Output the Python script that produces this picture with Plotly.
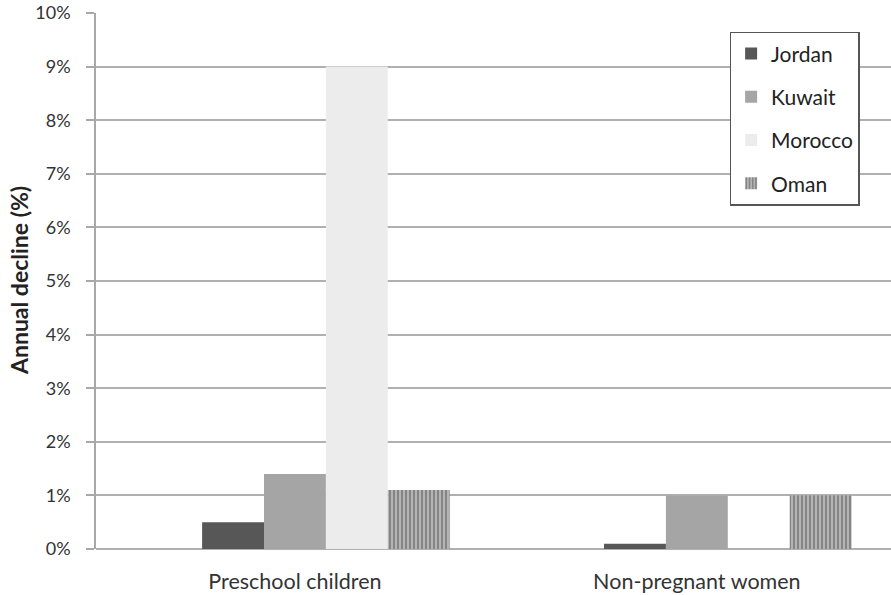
import plotly.graph_objects as go

categories = ["Preschool children", "Non-pregnant women"]
countries = ["Jordan", "Kuwait", "Morocco", "Oman"]
jordan = [0.5, 0.1]
kuwait = [1.4, 1.0]
morocco = [9.0, 0.0]
oman = [1.1, 1.0]
y_ticks = [0, 1, 2, 3, 4, 5, 6, 7, 8, 9, 10]
y_tick_labels = [f"{v}%" for v in y_ticks]

series = [jordan, kuwait, morocco, oman]
colors = ["#575757", "#a5a5a5", "#ececec", "#a0a0a0"]
bar_w = 0.154
# bar centres relative to the category centre (category width = 1)
centres = [-0.154, 0.0, 0.154, 0.308]

font_family = "Lato, Open Sans, Liberation Sans, sans-serif"

fig = go.Figure()
for i, (name, vals) in enumerate(zip(countries, series)):
    marker = dict(color=colors[i], line=dict(width=0))
    if name == "Oman":
        marker = dict(
            color="#b0b0b0",
            line=dict(width=0),
            pattern=dict(shape="|", fgcolor="#4a4a4a", bgcolor="#b4b4b4",
                         size=4, solidity=0.45, fillmode="overlay"),
        )
    fig.add_trace(go.Bar(
        name=name, x=categories, y=vals,
        width=bar_w, offset=centres[i] - bar_w / 2,
        marker=marker, legendgroup=name,
    ))

fig.update_layout(
    width=891, height=595,
    margin=dict(l=96, r=0, t=13, b=46),
    paper_bgcolor="white", plot_bgcolor="white",
    font=dict(family=font_family, color="#333333", size=18),
    showlegend=True,
    legend=dict(
        x=0.797, y=0.965, xanchor="left", yanchor="top",
        bgcolor="white", bordercolor="#555555", borderwidth=1.5,
        font=dict(size=21, color="#222222"),
        tracegroupgap=13, itemwidth=30,
    ),
    barmode="overlay",
)
fig.update_xaxes(
    type="category", range=[-0.495, 1.483],
    showline=False, showgrid=False, ticks="",
    tickfont=dict(size=21.5, color="#333333"),
    ticklabelstandoff=17,
)
fig.update_yaxes(
    range=[0, 10], tickvals=y_ticks, ticktext=y_tick_labels,
    showgrid=True, gridcolor="#b0b0b0", gridwidth=1.5,
    zeroline=True, zerolinecolor="#b0b0b0", zerolinewidth=1.5,
    showline=True, linecolor="#a8a8a8", linewidth=1.5,
    ticks="outside", ticklen=8, tickcolor="#a8a8a8", tickwidth=1.5,
    tickfont=dict(size=18, color="#333333"),
    ticklabelstandoff=12,
)
# y-axis title placed as a rotated annotation
fig.add_annotation(
    text="<b>Annual decline (%)</b>", textangle=-90,
    xref="paper", yref="paper", x=-(96 - 19) / 795, y=0.5,
    xanchor="center", yanchor="middle", showarrow=False,
    font=dict(size=23, color="#222222", family=font_family),
)

fig.write_html("out.html")
